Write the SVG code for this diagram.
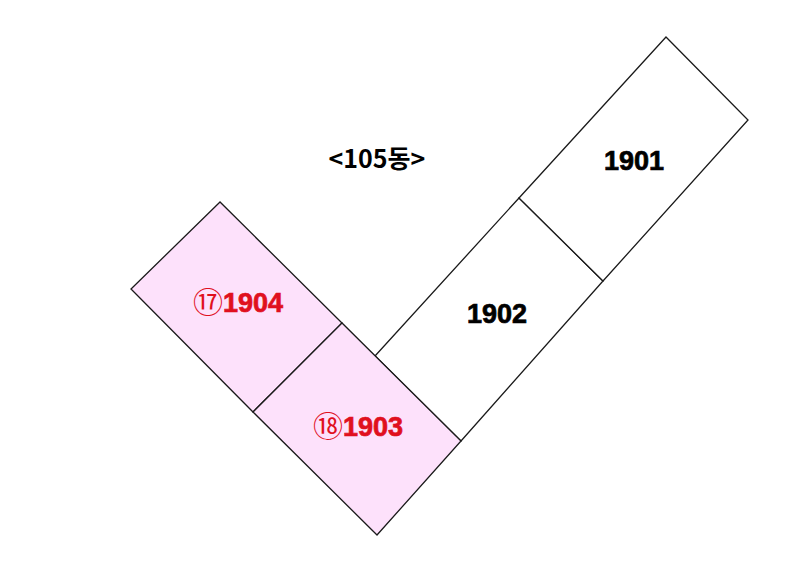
<svg xmlns="http://www.w3.org/2000/svg" width="800" height="581" viewBox="0 0 800 581">
<style>
.unit{stroke:#1a1a1a;stroke-width:1.3;stroke-linejoin:miter}
.pink{fill:#fde1fb}
.white{fill:#ffffff}
.lbl{font-family:"Liberation Sans","Noto Sans CJK KR",sans-serif;font-weight:bold;font-size:27px;text-anchor:middle;stroke-width:0.7;paint-order:stroke}
.red{fill:#e0101e;stroke:#e0101e}
.blk{fill:#000;stroke:#000}
.circ{font-family:"Noto Sans CJK KR","DejaVu Sans",sans-serif;font-weight:normal;font-size:30px;stroke-width:0}
</style>
<rect width="800" height="581" fill="#ffffff"/>
<g id="unit-1902">
<polygon class="unit white" points="375,356 519,198 603,281 461,441"/>
<text class="lbl blk" x="497" y="323">1902</text>
</g>
<g id="unit-1901">
<polygon class="unit white" points="519,198 666,37 748,120 603,281"/>
<text class="lbl blk" x="634" y="170">1901</text>
</g>
<g id="unit-1904">
<polygon class="unit pink" points="220,202 131,289 253,412 342,323"/>
<text class="lbl red" x="238" y="312"><tspan class="circ" dy="1">⑰</tspan><tspan dy="-1">1904</tspan></text>
</g>
<g id="unit-1903">
<polygon class="unit pink" points="342,323 253,412 377,535 461,441"/>
<text class="lbl red" x="358" y="436"><tspan class="circ" dy="1">⑱</tspan><tspan dy="-1">1903</tspan></text>
</g>
<g id="title">
<text x="377" y="168" style="font-family:'Noto Sans CJK KR',sans-serif;font-weight:bold;font-size:25px;text-anchor:middle" fill="#000">&lt;105동&gt;</text>
</g>
<g id="connectors"/>
</svg>
